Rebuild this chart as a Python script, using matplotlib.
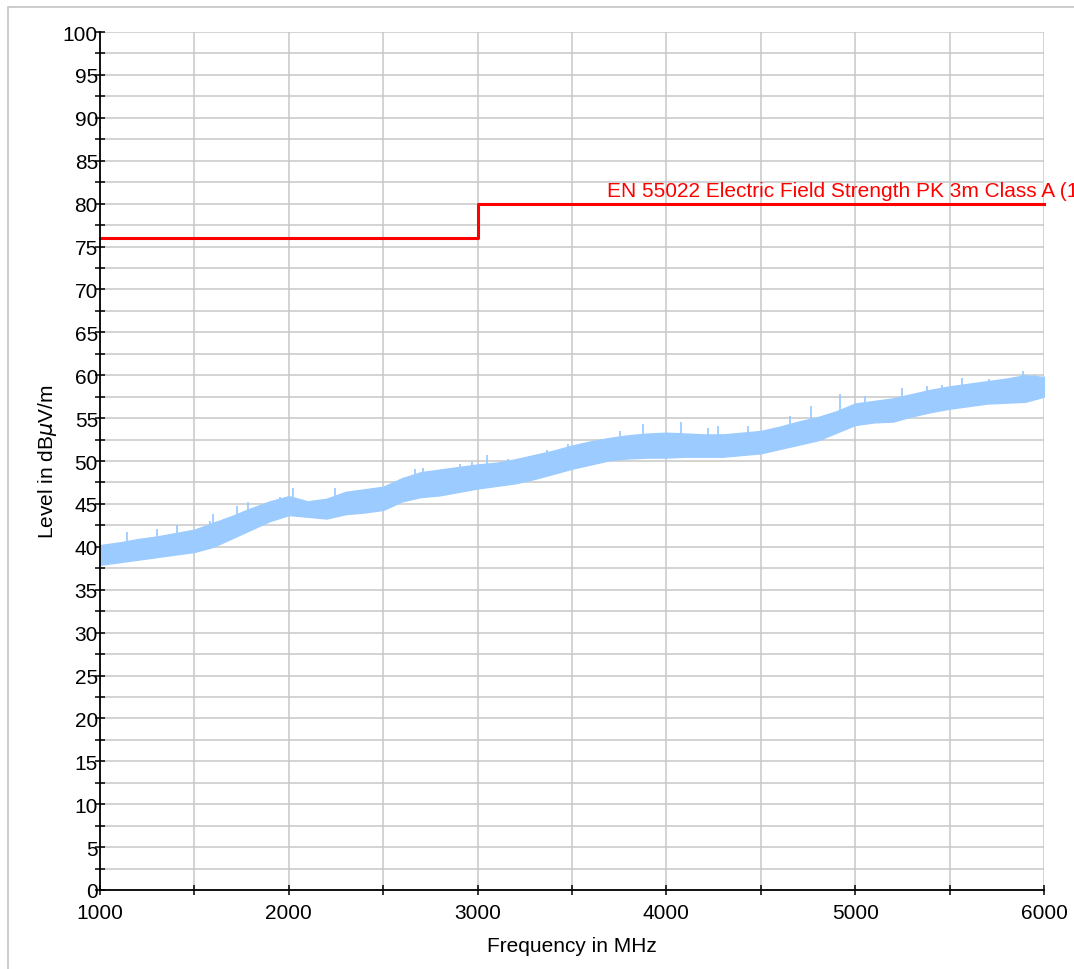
import matplotlib
matplotlib.use("Agg")
import numpy as np
import matplotlib.pyplot as plt
from matplotlib.patches import Rectangle
from matplotlib.ticker import MultipleLocator

plt.rcParams["font.family"] = ["Liberation Sans", "DejaVu Sans"]

# Measured trace, envelope read every 100 MHz (dBuV/m)
freq_mhz = list(range(1000, 6001, 100))
level_low = [37.9, 38.2, 38.5, 38.8, 39.1, 39.4, 40.0, 41.0, 42.0, 43.0,
             43.7, 43.5, 43.3, 43.8, 44.0, 44.3, 45.3, 45.8, 46.0, 46.4,
             46.8, 47.1, 47.4, 47.9, 48.5, 49.1, 49.6, 50.1, 50.3, 50.4,
             50.4, 50.5, 50.5, 50.5, 50.7, 50.9, 51.4, 51.9, 52.4, 53.3,
             54.2, 54.5, 54.6, 55.2, 55.7, 56.1, 56.4, 56.7, 56.8, 56.9,
             57.5]
level_high = [40.2, 40.5, 40.9, 41.2, 41.6, 42.0, 42.8, 43.6, 44.5, 45.3,
              45.9, 45.3, 45.6, 46.4, 46.7, 47.0, 48.0, 48.7, 49.0, 49.3,
              49.6, 49.8, 50.2, 50.7, 51.2, 51.8, 52.3, 52.7, 53.0, 53.2,
              53.3, 53.2, 53.1, 53.1, 53.3, 53.5, 54.0, 54.6, 55.1, 55.8,
              56.7, 57.0, 57.3, 57.8, 58.3, 58.7, 59.0, 59.3, 59.6, 60.0,
              59.8]

# Isolated peaks standing out above the trace
spike_freq = [1141, 1300, 1406, 1583, 1600, 1724, 1786, 1954, 2024, 2245,
              2668, 2712, 2906, 2968, 3048, 3162, 3366, 3481, 3555, 3754,
              3878, 4077, 4222, 4272, 4431, 4655, 4766, 4826, 4919, 5052,
              5250, 5379, 5458, 5564, 5709, 5891, 5953]
spike_level = [41.7, 42.1, 42.5, 43.0, 43.8, 44.8, 45.2, 45.8, 46.9, 46.9,
               49.1, 49.2, 49.6, 49.9, 50.7, 50.2, 51.3, 52.0, 52.0, 53.5,
               54.3, 54.6, 53.9, 54.1, 54.1, 55.2, 56.4, 55.2, 57.8, 57.6,
               58.5, 58.75, 58.9, 59.7, 59.6, 60.5, 60.0]

# Limit line
limit_freq = [1000, 3000, 6000]
limit_level = [76, 80, 80]
limit_name = "EN 55022 Electric Field Strength PK 3m Class A (1"

fig = plt.figure(figsize=(10.74, 9.70), dpi=100)
ax = fig.add_axes([100 / 1074, 1 - 891 / 970, 944 / 1074, 858 / 970])

# grey frame around the figure
fig.patches.append(Rectangle((8 / 1074, -0.05), 1.1, 1 - 8 / 970 + 0.05,
                             transform=fig.transFigure, fill=False,
                             edgecolor="#c4c4c4", linewidth=1.2))

trace_color = "#9ccbff"
ax.fill_between(freq_mhz, level_low, level_high, color=trace_color,
                linewidth=1.0, edgecolor=trace_color, zorder=3)
spike_base = np.interp(spike_freq, freq_mhz, level_low)
ax.vlines(spike_freq, spike_base, spike_level, color=trace_color,
          linewidth=1.3, zorder=3)

ax.step(limit_freq, limit_level, where="post", color="#ff0000",
        linewidth=2.2, zorder=4, clip_on=False)
ax.text(3685, 80.4, limit_name, color="#ff0000", fontsize=15,
        va="bottom", ha="left", clip_on=False)

ax.set_xlim(1000, 6000)
ax.set_ylim(0, 100)
ax.xaxis.set_major_locator(MultipleLocator(1000))
ax.xaxis.set_minor_locator(MultipleLocator(500))
ax.yaxis.set_major_locator(MultipleLocator(5))
ax.yaxis.set_minor_locator(MultipleLocator(2.5))

ax.grid(which="both", color="#c8c8c8", linewidth=1.1, zorder=0)
ax.set_axisbelow(True)

for s in ["top", "right"]:
    ax.spines[s].set_visible(False)
for s in ["left", "bottom"]:
    ax.spines[s].set_linewidth(1.3)
    ax.spines[s].set_zorder(5)

ax.tick_params(which="both", direction="inout", length=7, width=1.1,
               labelsize=15, colors="black")
ax.tick_params(axis="y", pad=-2)
ax.tick_params(axis="x", pad=6)

ax.set_xlabel("Frequency in MHz", fontsize=15, labelpad=10)
ax.set_ylabel("Level in dB$\\mu$V/m", fontsize=15, labelpad=3)

fig.savefig("out.png", dpi=100)
